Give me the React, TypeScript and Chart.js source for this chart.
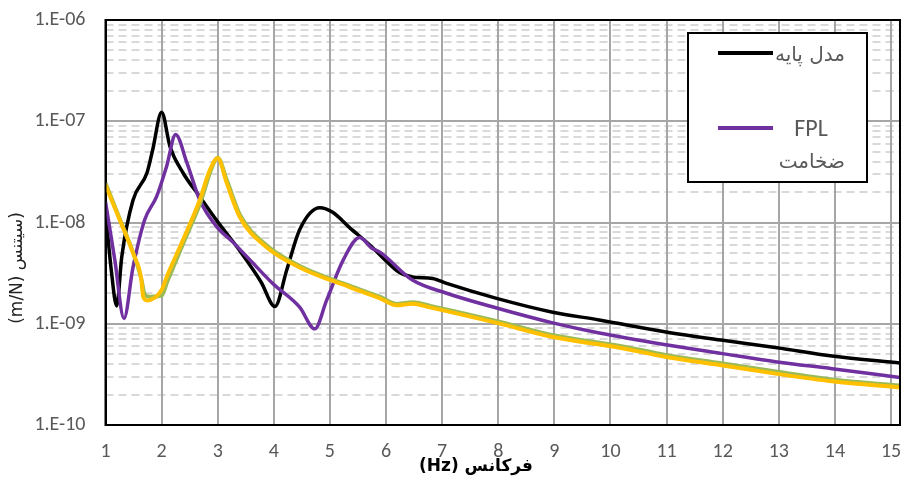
import React, { useEffect, useRef } from "react";
import { Chart, registerables } from "chart.js";

Chart.register(...registerables);

// ---- Data ----
const baseX = [1.0, 1.1, 1.2, 1.29, 1.49, 1.74, 1.84, 2.0, 2.15, 2.38, 2.68, 2.98, 3.4, 3.77, 4.02, 4.23, 4.46, 4.82, 5.05, 5.35, 5.71, 5.94, 6.24, 6.47, 6.83, 7.08, 7.97, 8.97, 9.8, 10.99, 11.97, 12.97, 13.95, 15.16];
const baseY = [1.3e-8, 3.5e-9, 1.5e-9, 4.6e-9, 1.66e-8, 3.1e-8, 5.2e-8, 1.23e-7, 5.6e-8, 3.1e-8, 1.8e-8, 1.05e-8, 5.2e-9, 2.6e-9, 1.48e-9, 3.4e-9, 8.5e-9, 1.4e-8, 1.26e-8, 8.9e-9, 6.0e-9, 4.5e-9, 3.2e-9, 2.9e-9, 2.8e-9, 2.5e-9, 1.78e-9, 1.3e-9, 1.09e-9, 8.3e-10, 6.9e-10, 5.8e-10, 4.8e-10, 4.1e-10];

const fplX = [1.0, 1.165, 1.33, 1.49, 1.7, 1.91, 2.09, 2.25, 2.45, 2.68, 2.98, 3.27, 3.57, 3.98, 4.46, 4.73, 4.94, 5.24, 5.53, 5.74, 5.89, 6.47, 7.08, 7.97, 8.97, 9.8, 10.99, 11.97, 12.97, 13.95, 15.16];
const fplY = [1.6e-8, 4.3e-9, 1.13e-9, 3.6e-9, 1.07e-8, 1.8e-8, 3.6e-8, 7.4e-8, 3.9e-8, 1.67e-8, 9.1e-9, 6.4e-9, 4.3e-9, 2.5e-9, 1.46e-9, 8.9e-10, 1.7e-9, 4.3e-9, 7.1e-9, 5.6e-9, 5.1e-9, 2.7e-9, 2.0e-9, 1.43e-9, 1.02e-9, 8.1e-10, 6.2e-10, 5.1e-10, 4.2e-10, 3.6e-10, 2.95e-10];

const greenX = [1.0, 1.25, 1.49, 1.64, 1.7, 1.8, 2.0, 2.1, 2.4, 2.7, 2.88, 3.0, 3.17, 3.4, 3.88, 4.47, 5.36, 5.9, 6.2, 6.48, 6.79, 7.98, 8.98, 10.17, 11.0, 11.98, 12.98, 13.96, 15.16];
const greenY = [2.45e-8, 1.1e-8, 5.1e-9, 2.75e-9, 1.95e-9, 1.85e-9, 1.9e-9, 2.6e-9, 6.5e-9, 1.62e-8, 3.3e-8, 4.35e-8, 2.55e-8, 1.18e-8, 5.9e-9, 3.7e-9, 2.37e-9, 1.84e-9, 1.57e-9, 1.63e-9, 1.5e-9, 1.06e-9, 7.7e-10, 6.05e-10, 4.9e-10, 4.07e-10, 3.35e-10, 2.82e-10, 2.45e-10];

const yellowX = [1.0, 1.25, 1.49, 1.64, 1.67, 1.74, 2.0, 2.09, 2.38, 2.68, 2.86, 3.0, 3.16, 3.39, 3.87, 4.46, 5.35, 5.89, 6.19, 6.47, 6.78, 7.97, 8.97, 10.16, 10.99, 11.97, 12.97, 13.95, 15.16];
const yellowY = [2.35e-8, 1.07e-8, 5.0e-9, 2.7e-9, 1.85e-9, 1.7e-9, 2.15e-9, 2.9e-9, 6.7e-9, 1.67e-8, 3.3e-8, 4.3e-8, 2.46e-8, 1.14e-8, 5.7e-9, 3.6e-9, 2.3e-9, 1.78e-9, 1.52e-9, 1.58e-9, 1.45e-9, 1.02e-9, 7.4e-10, 5.8e-10, 4.7e-10, 3.9e-10, 3.2e-10, 2.7e-10, 2.35e-10];

const xMin = 1;
const xMax = 15.16;
const majorExponents = [-10, -9, -8, -7, -6];
const minorDecades = [-10, -9, -8, -7];
const minorMultipliers = [2, 3, 4, 5, 6, 7, 8, 9];

const legendBaseLabel = "مدل پایه";
const legendFplLine1 = "FPL";
const legendFplLine2 = "ضخامت";
const xTitle = "(Hz) فرکانس";
const yTitle = "(m/N) سیتنس)";

const pts = (xs: number[], ys: number[]) => xs.map((x, i) => ({ x, y: ys[i] }));

const TICK_FONT = "Carlito, 'Liberation Sans Narrow', 'Open Sans', sans-serif";
const FA_FONT = "'DejaVu Sans', 'Noto Sans', sans-serif";

const decorPlugin = {
  id: "decor",
  beforeDraw(chart: any) {
    const { ctx, chartArea: a, scales } = chart;
    const y = scales.y;
    ctx.save();
    ctx.beginPath();
    ctx.rect(a.left, a.top, a.right - a.left, a.bottom - a.top);
    ctx.clip();
    ctx.strokeStyle = "#d9d9d9";
    ctx.lineWidth = 2;
    ctx.setLineDash([8, 5]);
    for (const d of minorDecades) {
      for (const m of minorMultipliers) {
        const py = Math.round(y.getPixelForValue(m * Math.pow(10, d)));
        ctx.beginPath();
        ctx.moveTo(a.left, py);
        ctx.lineTo(a.right, py);
        ctx.stroke();
      }
    }
    ctx.restore();
  },
  afterDraw(chart: any) {
    const { ctx, chartArea: a } = chart;
    ctx.save();
    // plot frame
    ctx.strokeStyle = "#000";
    ctx.lineWidth = 2;
    ctx.strokeRect(a.left, a.top, a.right - a.left, a.bottom - a.top);

    // legend box
    const bx = 688, by = 33, bw = 179, bh = 149;
    ctx.fillStyle = "#fff";
    ctx.fillRect(bx, by, bw, bh);
    ctx.strokeRect(bx, by, bw, bh);

    ctx.lineWidth = 4;
    ctx.strokeStyle = "#000";
    ctx.beginPath();
    ctx.moveTo(718, 53);
    ctx.lineTo(773, 53);
    ctx.stroke();
    ctx.strokeStyle = "#7030A0";
    ctx.beginPath();
    ctx.moveTo(718, 128);
    ctx.lineTo(773, 128);
    ctx.stroke();

    ctx.fillStyle = "#595959";
    ctx.textBaseline = "middle";
    ctx.font = "20px " + FA_FONT;
    ctx.textAlign = "right";
    ctx.fillText(legendBaseLabel, 845, 56);
    ctx.fillText(legendFplLine2, 845, 163);
    ctx.font = "24px " + TICK_FONT;
    ctx.textAlign = "center";
    ctx.fillText(legendFplLine1, 811, 130);

    // axis titles
    ctx.fillStyle = "#000";
    ctx.font = "bold 17px " + FA_FONT;
    ctx.textAlign = "center";
    ctx.fillText(xTitle, 476, 467);

    ctx.translate(18, 268);
    ctx.rotate(-Math.PI / 2);
    ctx.font = "17px " + FA_FONT;
    ctx.fillStyle = "#222";
    ctx.fillText(yTitle, 0, 0);
    ctx.restore();
  },
};

export default function App() {
  const ref = useRef<HTMLCanvasElement | null>(null);

  useEffect(() => {
    if (!ref.current) return;
    const common = {
      pointRadius: 0,
      pointHoverRadius: 0,
      fill: false,
      cubicInterpolationMode: "monotone" as const,
    };
    const chart = new Chart(ref.current, {
      type: "line",
      data: {
        datasets: [
          { ...common, label: "yellow", data: pts(yellowX, yellowY), borderColor: "#FFC000", borderWidth: 4 },
          { ...common, label: "green", data: pts(greenX, greenY), borderColor: "#9BBB59", borderWidth: 4 },
          { ...common, label: "FPL", data: pts(fplX, fplY), borderColor: "#7030A0", borderWidth: 3.5 },
          { ...common, label: legendBaseLabel, data: pts(baseX, baseY), borderColor: "#000000", borderWidth: 3.5 },
        ],
      },
      options: {
        animation: false,
        responsive: false,
        events: [],
        layout: { padding: { top: 20, right: 2, left: 0, bottom: 0 } },
        plugins: { legend: { display: false }, tooltip: { enabled: false }, title: { display: false } },
        scales: {
          x: {
            type: "linear",
            min: xMin,
            max: xMax,
            afterFit: (s: any) => {
              s.height = 58;
              s.paddingLeft = 0;
              s.paddingRight = 0;
            },
            ticks: {
              stepSize: 1,
              includeBounds: false,
              autoSkip: false,
              maxRotation: 0,
              padding: 15,
              color: "#595959",
              font: { family: TICK_FONT, size: 20 },
              callback: (v: any) => String(v),
            },
            grid: { color: "#a6a6a6", lineWidth: 2, drawTicks: false },
            border: { color: "#000", width: 2 },
          },
          y: {
            type: "logarithmic",
            min: 1e-10,
            max: 1e-6,
            afterFit: (s: any) => {
              s.width = 105.5;
              s.paddingTop = 0;
              s.paddingBottom = 0;
            },
            afterBuildTicks: (s: any) => {
              s.ticks = majorExponents.map((e) => ({ value: Math.pow(10, e), major: true }));
            },
            ticks: {
              padding: 20,
              color: "#595959",
              font: { family: TICK_FONT, size: 20 },
              callback: (v: any) => {
                const e = Math.round(Math.log10(Number(v)));
                const abs = Math.abs(e);
                return "1.E" + (e < 0 ? "-" : "+") + (abs < 10 ? "0" + abs : String(abs));
              },
            },
            grid: { color: "#a6a6a6", lineWidth: 2, drawTicks: false },
            border: { color: "#000", width: 2 },
          },
        },
      },
      plugins: [decorPlugin],
    } as any);
    return () => chart.destroy();
  }, []);

  return (
    <div style={{ position: "fixed", left: 0, top: 0, width: 902, height: 483, background: "#fff" }}>
      <canvas ref={ref} width={902} height={483} style={{ display: "block" }} />
    </div>
  );
}
